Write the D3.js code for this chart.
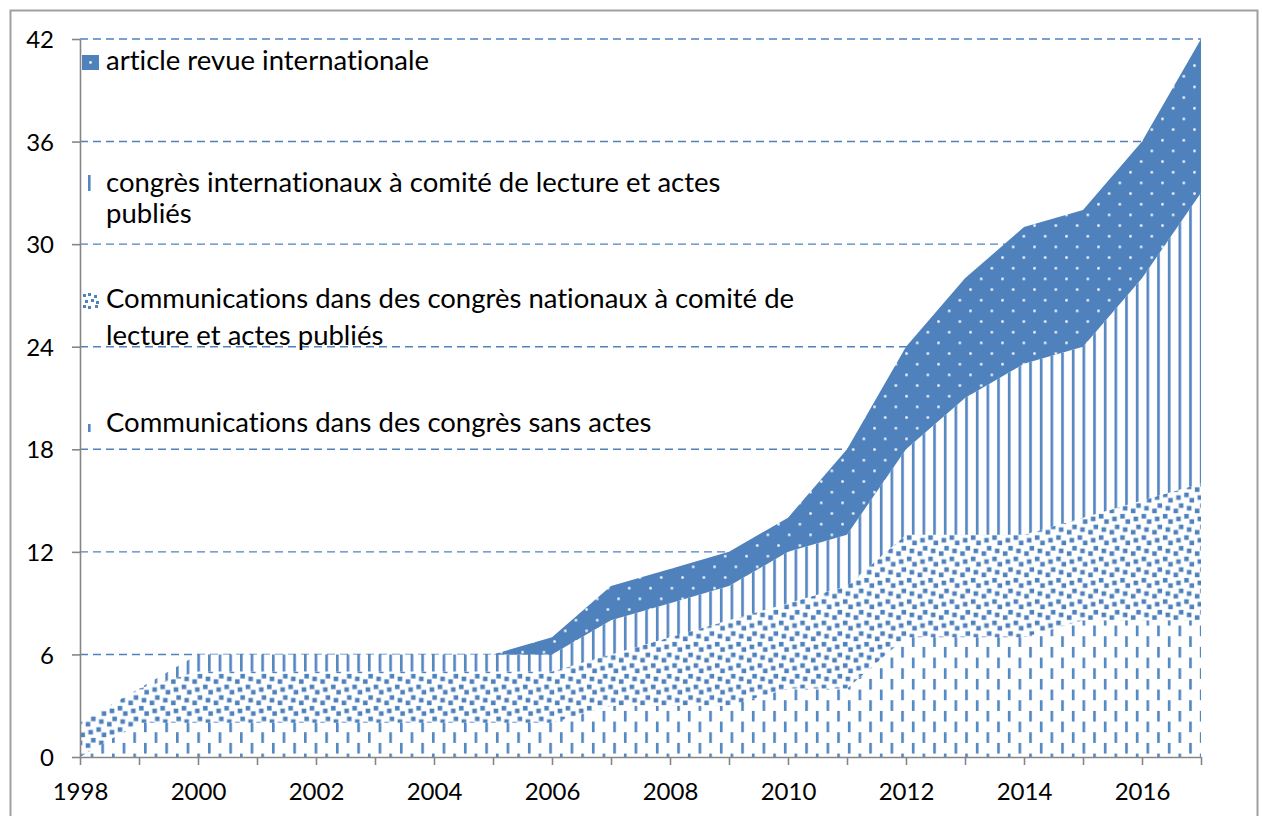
<!DOCTYPE html>
<html>
<head>
<meta charset="utf-8">
<script src="https://cdn.jsdelivr.net/npm/d3@7"></script>
<style>
  body { margin: 0; background: #fff; }
  svg { display: block; font-family: Lato, "DejaVu Sans", sans-serif; font-variant-ligatures: none; }
</style>
</head>
<body>
<svg id="canvas" width="1262" height="816"></svg>
<script>
// data
const years = [1998, 1999, 2000, 2001, 2002, 2003, 2004, 2005, 2006, 2007,
               2008, 2009, 2010, 2011, 2012, 2013, 2014, 2015, 2016, 2017];
const sansActes      = [0, 2, 2, 2, 2, 2, 2, 2, 2, 3, 3, 3, 4, 4, 7, 7, 7, 8, 8, 8];
const nationaux      = [2, 2, 3, 3, 3, 3, 3, 3, 3, 3, 4, 5, 5, 6, 6, 6, 6, 6, 7, 8];
const internationaux = [0, 0, 1, 1, 1, 1, 1, 1, 1, 2, 2, 2, 3, 3, 5, 8, 10, 10, 13, 17];
const articles       = [0, 0, 0, 0, 0, 0, 0, 0, 1, 2, 2, 2, 2, 5, 6, 7, 8, 8, 8, 9];

const yTicks = [0, 6, 12, 18, 24, 30, 36, 42];

const legendLabels = [
  ["article revue internationale"],
  ["congrès internationaux à comité de lecture et actes", "publiés"],
  ["Communications dans des congrès nationaux à comité de", "lecture et actes publiés"],
  ["Communications dans des congrès sans actes"]
];

const BLUE = "#4f81bd";
const LINE_BLUE = "#5587c4";
const AXIS = "#868686";

const CANVAS = d3.select("#canvas");

var x = d3.scaleLinear().domain([1998, 2017]).range([80, 1201]);
var y = d3.scaleLinear().domain([0, 42]).range([757, 39]);

// outer frame
CANVAS.append("rect")
  .attr("x", 10.5).attr("y", 10.5)
  .attr("width", 1247).attr("height", 830)
  .attr("fill", "#fff")
  .attr("stroke", "#a0a0a0")
  .attr("stroke-width", 2);

/**
 * fill patterns, one per series (8x8 hatch cells, scaled up)
 */
const defs = CANVAS.append("defs");
const T = 21.33;
const U = T / 8;
const SQ = 4.6;

function pattern(id) {
  var p = defs.append("pattern")
    .attr("id", id)
    .attr("patternUnits", "userSpaceOnUse")
    .attr("x", 80).attr("y", 39)
    .attr("width", T).attr("height", T);
  p.append("rect").attr("width", T).attr("height", T).attr("fill", "#fff");
  return p;
}

var pDash = pattern("p-dash");
pDash.append("rect").attr("x", 0).attr("y", 0).attr("width", U).attr("height", T / 2).attr("fill", LINE_BLUE);
pDash.append("rect").attr("x", T / 2).attr("y", T / 2).attr("width", U).attr("height", T / 2).attr("fill", LINE_BLUE);

// large confetti: 2x2 blocks, the last one wraps round the corner
const confetti = [[2, 0], [6, 2], [3, 3], [0, 4], [4, 6], [7, 7], [-1, 7], [7, -1], [-1, -1]];
var pConf = pattern("p-conf");
confetti.forEach(function (c) {
  pConf.append("rect")
    .attr("x", (c[0] + 1) * U - SQ / 2)
    .attr("y", (c[1] + 1) * U - SQ / 2)
    .attr("width", SQ).attr("height", SQ)
    .attr("fill", BLUE);
});

var pLines = pattern("p-lines");
pLines.append("rect").attr("x", 0).attr("width", U).attr("height", T).attr("fill", LINE_BLUE);
pLines.append("rect").attr("x", T / 2).attr("width", U).attr("height", T).attr("fill", LINE_BLUE);

var pDots = pattern("p-dots");
pDots.append("rect").attr("width", T).attr("height", T).attr("fill", BLUE);
pDots.append("circle").attr("cx", T / 4).attr("cy", T / 4).attr("r", 1.4).attr("fill", "#e8eff8");
pDots.append("circle").attr("cx", 3 * T / 4).attr("cy", 3 * T / 4).attr("r", 1.4).attr("fill", "#e8eff8");

const fills = ["url(#p-dash)", "url(#p-conf)", "url(#p-lines)", "url(#p-dots)"];

// gridlines
CANVAS.append("g")
  .selectAll("line")
  .data(yTicks.slice(1))
  .join("line")
  .attr("x1", 80).attr("x2", 1201)
  .attr("y1", d => y(d)).attr("y2", d => y(d))
  .attr("stroke", BLUE)
  .attr("stroke-width", 1.4)
  .attr("stroke-dasharray", "8,5");

// stacked areas
var table = years.map(function (yr, i) {
  return { year: yr, s0: sansActes[i], s1: nationaux[i], s2: internationaux[i], s3: articles[i] };
});
var series = d3.stack().keys(["s0", "s1", "s2", "s3"])(table);

var area = d3.area()
  .x(d => x(d.data.year))
  .y0(d => y(d[0]))
  .y1(d => y(d[1]));

CANVAS.append("g")
  .selectAll("path")
  .data(series)
  .join("path")
  .attr("d", area)
  .attr("fill", (d, i) => fills[i]);

// axes
var xAxis = CANVAS.append("g")
  .attr("transform", "translate(0," + y(0) + ")")
  .call(d3.axisBottom(x)
    .tickValues(years)
    .tickSize(8)
    .tickSizeOuter(0)
    .tickPadding(18)
    .tickFormat(d => d % 2 === 0 ? d : ""));

var yAxis = CANVAS.append("g")
  .attr("transform", "translate(" + x(1998) + ",0)")
  .call(d3.axisLeft(y)
    .tickValues(yTicks)
    .tickSize(8)
    .tickSizeOuter(0)
    .tickPadding(18));

[xAxis, yAxis].forEach(function (g) {
  g.select(".domain").attr("stroke", AXIS).attr("stroke-width", 1.6);
  g.selectAll(".tick line").attr("stroke", AXIS).attr("stroke-width", 1.6);
  g.selectAll(".tick text")
    .attr("fill", "#000")
    .style("font-size", "24px")
    .style("font-family", "Lato, sans-serif");
});
yAxis.selectAll(".tick text").attr("dy", "0.36em");

// legend
var legend = CANVAS.append("g");

function legendText(lines, bases) {
  lines.forEach(function (line, j) {
    legend.append("text")
      .attr("x", 106)
      .attr("y", bases[j])
      .attr("fill", "#000")
      .style("font-size", "27.5px")
      .text(line);
  });
}

// article revue internationale: solid patch with one dot
legend.append("rect").attr("x", 82).attr("y", 55).attr("width", 17).attr("height", 15).attr("fill", BLUE);
legend.append("circle").attr("cx", 90.5).attr("cy", 62.5).attr("r", 1.4).attr("fill", "#e8eff8");
legendText(legendLabels[0], [70]);

// congrès internationaux: a single vertical line
legend.append("rect").attr("x", 88).attr("y", 175).attr("width", 2.6).attr("height", 16).attr("fill", LINE_BLUE);
legendText(legendLabels[1], [192, 223]);

// congrès nationaux: a little block of confetti
[[83, 294], [88, 293], [94, 295], [85, 300], [91, 299], [96, 301], [83, 305], [88, 306], [95, 305]].forEach(function (c) {
  legend.append("rect").attr("x", c[0]).attr("y", c[1]).attr("width", 3).attr("height", 3).attr("fill", BLUE);
});
legendText(legendLabels[2], [308, 345]);

// sans actes: a short dash
legend.append("rect").attr("x", 88).attr("y", 424).attr("width", 2.6).attr("height", 8).attr("fill", LINE_BLUE);
legendText(legendLabels[3], [432]);
</script>
</body>
</html>
